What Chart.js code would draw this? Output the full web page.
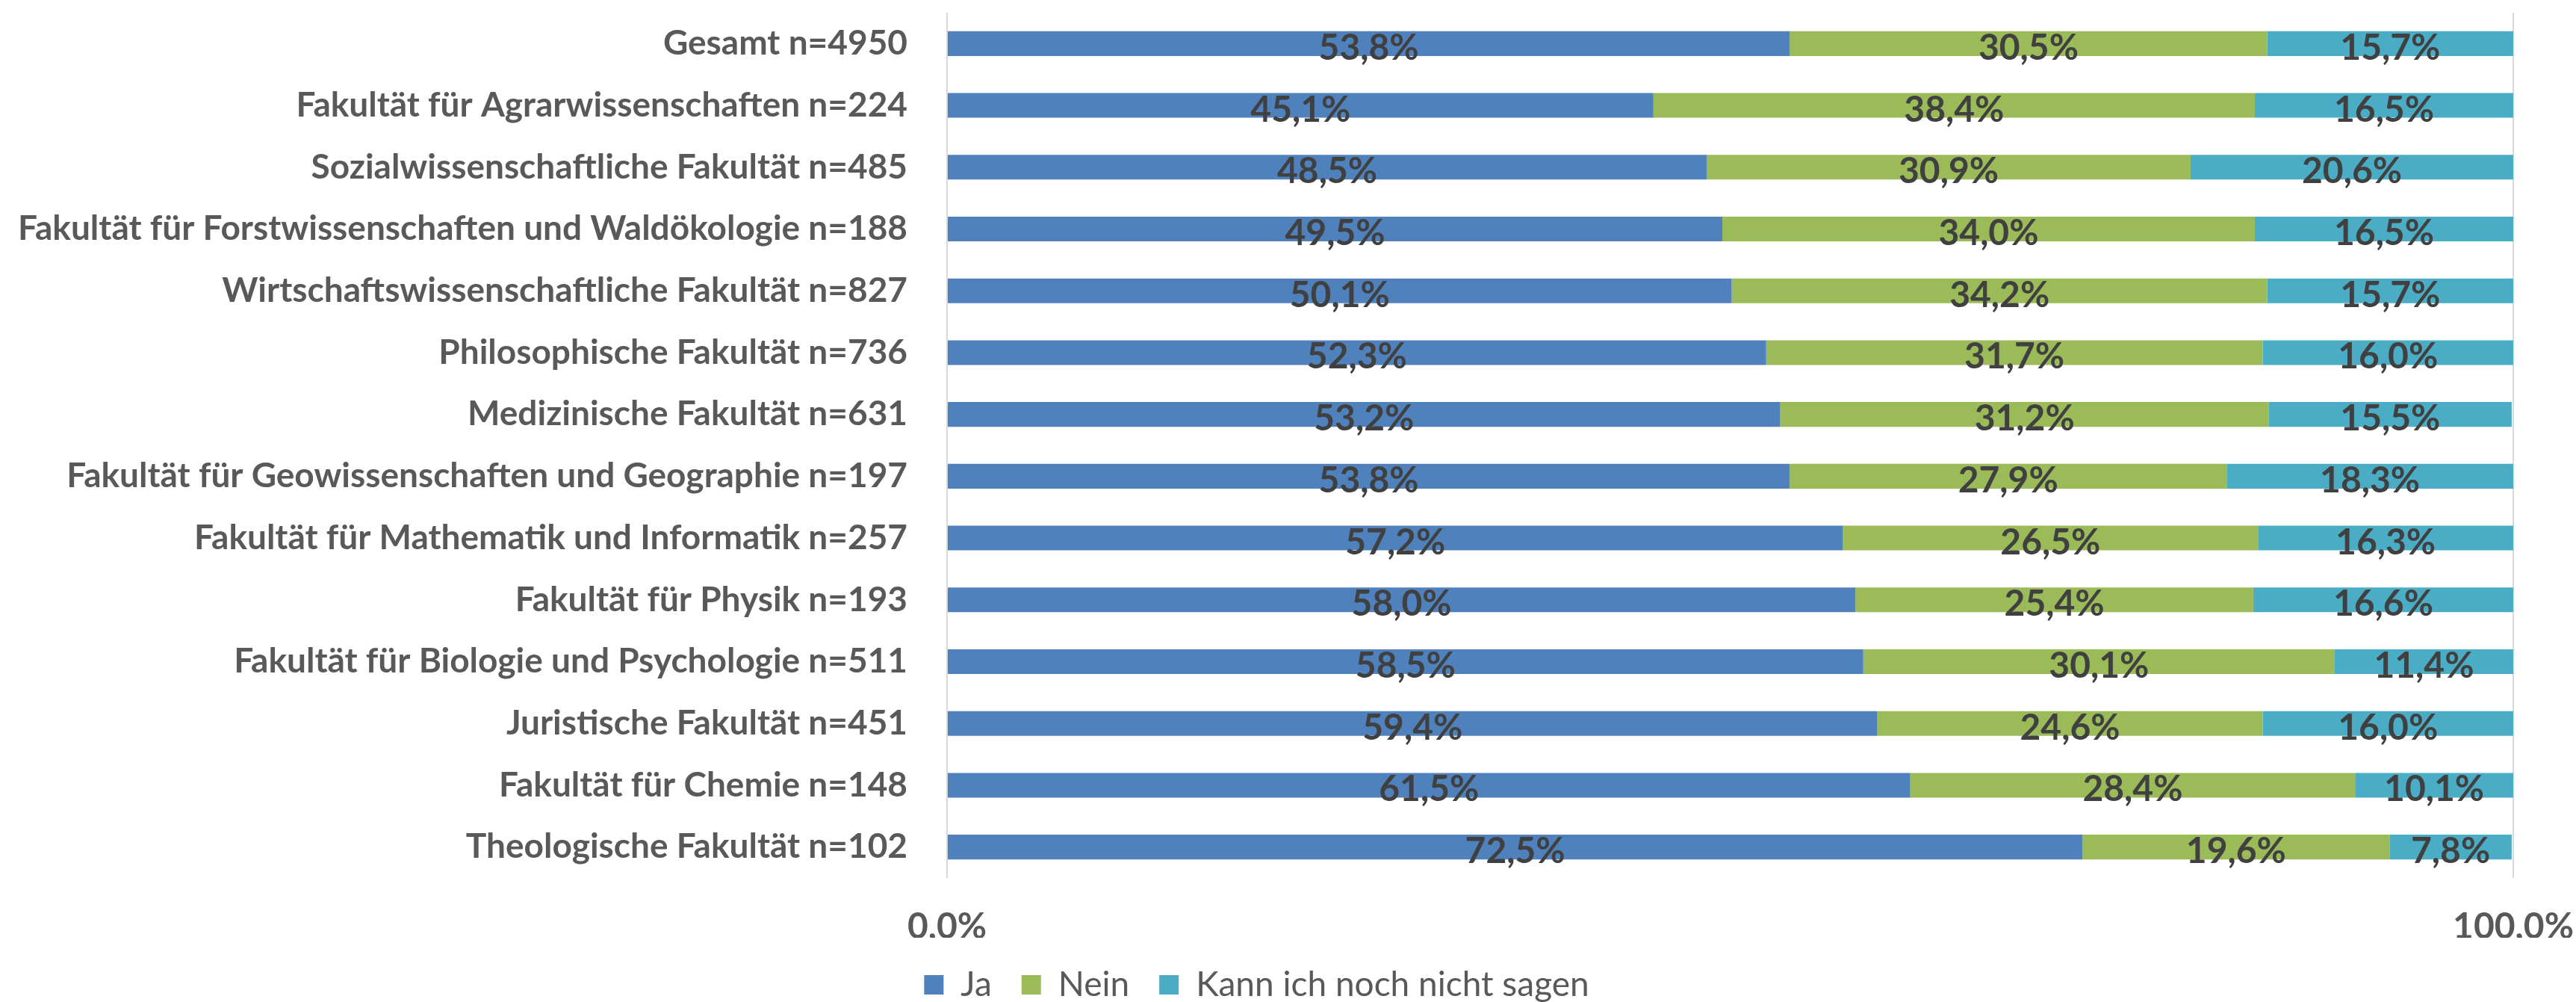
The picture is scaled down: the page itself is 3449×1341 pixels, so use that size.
<!DOCTYPE html>
<html lang="de">
  <head>
    <meta charset="UTF-8" />
    <script src="https://cdn.jsdelivr.net/npm/chart.js"></script>
    <style>
      body { margin: 0; padding: 0; background: #ffffff; }
      #wrap { width: 3449px; height: 1341px; position: relative; }
    </style>
  </head>
  <body>
    <div id="wrap"><canvas id="chart"></canvas></div>

    <script>
      const categories = [
        "Gesamt n=4950",
        "Fakultät für Agrarwissenschaften n=224",
        "Sozialwissenschaftliche Fakultät n=485",
        "Fakultät für Forstwissenschaften und Waldökologie n=188",
        "Wirtschaftswissenschaftliche Fakultät n=827",
        "Philosophische Fakultät n=736",
        "Medizinische Fakultät n=631",
        "Fakultät für Geowissenschaften und Geographie n=197",
        "Fakultät für Mathematik und Informatik n=257",
        "Fakultät für Physik n=193",
        "Fakultät für Biologie und Psychologie n=511",
        "Juristische Fakultät n=451",
        "Fakultät für Chemie n=148",
        "Theologische Fakultät n=102"
      ];
      const ja = [53.8, 45.1, 48.5, 49.5, 50.1, 52.3, 53.2, 53.8, 57.2, 58.0, 58.5, 59.4, 61.5, 72.5];
      const nein = [30.5, 38.4, 30.9, 34.0, 34.2, 31.7, 31.2, 27.9, 26.5, 25.4, 30.1, 24.6, 28.4, 19.6];
      const kann = [15.7, 16.5, 20.6, 16.5, 15.7, 16.0, 15.5, 18.3, 16.3, 16.6, 11.4, 16.0, 10.1, 7.8];
      const tickValues = [0, 100];
      const tickLabels = ["0,0%", "100,0%"];

      const FONT = "Lato, 'Noto Sans', sans-serif";
      const fmt = v => v.toFixed(1).replace(".", ",") + "%";

      // values drawn in the middle of each segment
      const segmentLabels = {
        id: "segmentLabels",
        afterDatasetsDraw(chart) {
          const ctx = chart.ctx;
          ctx.save();
          ctx.font = "bold 48px " + FONT;
          ctx.fillStyle = "#404040";
          ctx.textAlign = "center";
          ctx.textBaseline = "middle";
          chart.data.datasets.forEach((ds, i) => {
            chart.getDatasetMeta(i).data.forEach((bar, j) => {
              const p = bar.getCenterPoint();
              ctx.fillText(fmt(ds.data[j]), p.x, p.y + 6);
            });
          });
          ctx.restore();
        }
      };

      new Chart(document.getElementById("chart"), {
        type: "bar",
        data: {
          labels: categories,
          datasets: [
            { label: "Ja", data: ja, backgroundColor: "#4F81BD" },
            { label: "Nein", data: nein, backgroundColor: "#9BBB59" },
            { label: "Kann ich noch nicht sagen", data: kann, backgroundColor: "#4BACC6" }
          ]
        },
        options: {
          indexAxis: "y",
          responsive: true,
          maintainAspectRatio: false,
          animation: false,
          layout: { padding: { top: 17, left: 0, right: 84, bottom: -10 } },
          datasets: { bar: { barPercentage: 0.4, categoryPercentage: 1.0 } },
          scales: {
            x: {
              stacked: true,
              min: 0,
              max: 100,
              afterBuildTicks: scale => { scale.ticks = tickValues.map(v => ({ value: v })); },
              afterFit: scale => {
                scale.height = 80;
                scale.paddingLeft = 0;
                scale.paddingRight = 0;
              },
              ticks: {
                callback: (v) => tickLabels[tickValues.indexOf(v)],
                font: { family: FONT, size: 48, weight: "bold" },
                color: "#595959",
                padding: 37,
                maxRotation: 0
              },
              grid: { color: "#D9D9D9", lineWidth: 2, drawTicks: false },
              border: { display: false }
            },
            y: {
              stacked: true,
              afterFit: scale => {
                scale.width = 1268;
                scale.paddingTop = 0;
                scale.paddingBottom = 0;
              },
              ticks: {
                font: { family: FONT, size: 46, weight: "bold" },
                color: "#595959",
                padding: 45
              },
              grid: { display: false },
              border: { display: false }
            }
          },
          plugins: {
            legend: {
              position: "bottom",
              labels: {
                font: { family: FONT, size: 46 },
                color: "#595959",
                boxWidth: 26,
                boxHeight: 26,
                padding: 40
              }
            },
            tooltip: { enabled: false }
          }
        },
        plugins: [segmentLabels]
      });
    </script>
  </body>
</html>
